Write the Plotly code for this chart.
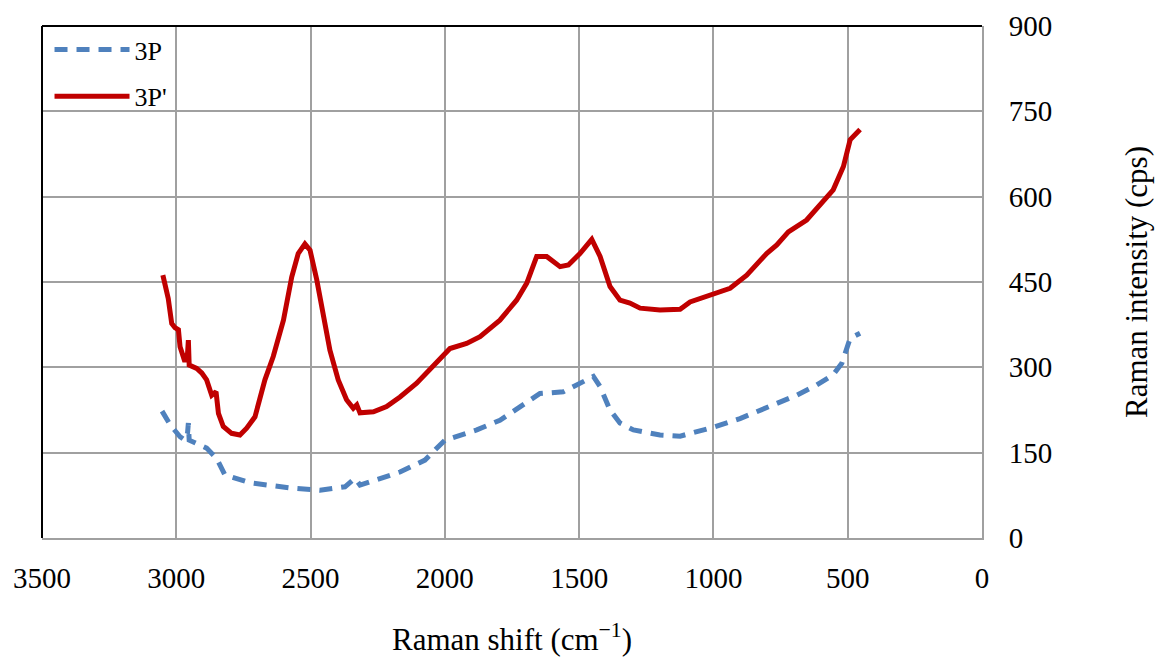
import plotly.graph_objects as go

# Raman shift (cm^-1) and intensity (cps)
shift_3p = [3053, 3023, 2986, 2968, 2958, 2955, 2952, 2918, 2887, 2850, 2819, 2725,
            2577, 2465, 2372, 2335, 2316, 2167, 2074, 2000, 1881, 1795, 1695, 1646,
            1559, 1509, 1447, 1422, 1385, 1348, 1298, 1199, 1124, 998, 901, 839,
            764, 690, 615, 554, 522, 504, 491, 454]
int_3p = [223, 199, 178, 172, 185, 202, 172, 165, 158, 140, 111, 97,
          88, 84, 90, 105, 93, 116, 137, 172, 190, 207, 237, 254,
          257, 269, 284, 266, 225, 202, 190, 181, 179, 195, 210, 222,
          237, 251, 269, 287, 307, 336, 351, 360]

shift_3pp = [3050, 3040, 3030, 3017, 3005, 2992, 2986, 2968, 2958, 2955, 2952, 2924,
             2905, 2887, 2868, 2852, 2843, 2825, 2794, 2763, 2738, 2707, 2670, 2639,
             2601, 2570, 2546, 2521, 2502, 2477, 2452, 2428, 2397, 2366, 2341, 2328,
             2316, 2266, 2217, 2167, 2105, 2043, 1981, 1919, 1869, 1795, 1733, 1695,
             1658, 1621, 1571, 1540, 1497, 1453, 1422, 1385, 1348, 1311, 1273, 1199,
             1124, 1087, 1050, 1013, 938, 876, 802, 764, 721, 653, 603, 554,
             516, 491, 454]
int_3pp = [462, 440, 421, 377, 370, 366, 336, 310, 325, 348, 304, 298,
           290, 278, 251, 257, 219, 196, 184, 181, 193, 213, 278, 319,
           383, 459, 500, 517, 506, 454, 389, 330, 278, 243, 228, 234,
           220, 222, 231, 248, 272, 304, 333, 342, 354, 383, 418, 448,
           495, 495, 477, 480, 500, 525, 495, 442, 418, 413, 404, 401,
           402, 415, 421, 425, 439, 462, 500, 515, 538, 559, 585, 612,
           653, 700, 718]

x_ticks = [3500, 3000, 2500, 2000, 1500, 1000, 500, 0]
y_ticks = [0, 150, 300, 450, 600, 750, 900]

FONT = "Liberation Serif"

fig = go.Figure()
fig.add_trace(go.Scatter(x=shift_3p, y=int_3p, mode="lines", name="3P",
                         legendgroup="a",
                         line=dict(color="#4F81BD", width=5, dash="13px,9px")))
fig.add_trace(go.Scatter(x=shift_3pp, y=int_3pp, mode="lines", name="3P'",
                         legendgroup="b",
                         line=dict(color="#C00000", width=5)))

fig.update_layout(
    width=1155, height=651,
    margin=dict(l=34, r=181, t=18, b=121),
    paper_bgcolor="white", plot_bgcolor="white",
    font=dict(family=FONT, color="black", size=28),
    showlegend=True,
    legend=dict(x=0.008, y=1.0, xanchor="left", yanchor="top",
                bgcolor="rgba(0,0,0,0)",
                font=dict(family=FONT, size=26, color="black"),
                tracegroupgap=10, itemwidth=75),
    xaxis=dict(range=[3500, 0], tickvals=x_ticks, showgrid=True,
               gridcolor="#A0A0A0", gridwidth=2, zeroline=False,
               showline=True, linecolor="#A0A0A0", linewidth=2,
               automargin=False,
               ticks="", ticklabelstandoff=13,
               tickfont=dict(family=FONT, size=29, color="black"),
               title=dict(text="Raman shift (cm<sup>−1</sup>)",
                          font=dict(family=FONT, size=31, color="black"),
                          standoff=36)),
    yaxis=dict(range=[0, 900], tickvals=y_ticks, side="right", showgrid=True,
               gridcolor="#A0A0A0", gridwidth=2, zeroline=False,
               showline=True, linecolor="#A0A0A0", linewidth=2,
               automargin=False,
               ticks="", ticklabelstandoff=19,
               tickfont=dict(family=FONT, size=29, color="black"),
               title=dict(text="Raman intensity (cps)",
                          font=dict(family=FONT, size=31, color="black"),
                          standoff=74)),
    shapes=[
        dict(type="line", xref="paper", yref="paper", x0=0, x1=1, y0=1, y1=1,
             line=dict(color="black", width=2)),
        dict(type="line", xref="paper", yref="paper", x0=0, x1=0, y0=0, y1=1,
             line=dict(color="black", width=2)),
    ],
)

fig.write_html("out.html")
